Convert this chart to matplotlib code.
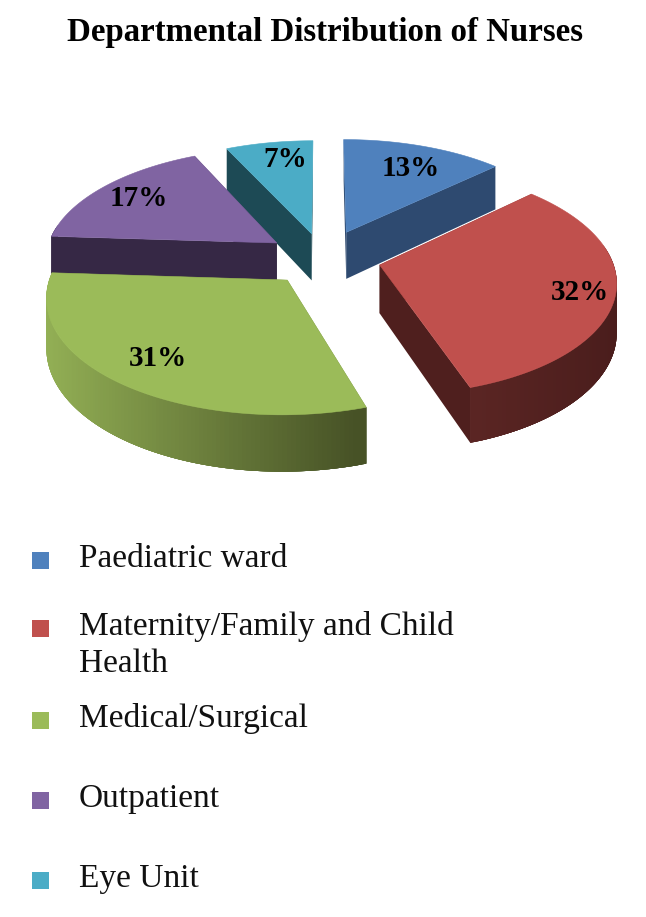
import numpy as np
import matplotlib
matplotlib.use("Agg")
import matplotlib.pyplot as plt
from matplotlib.patches import Polygon, Rectangle
from matplotlib.colors import to_rgb

title = "Departmental Distribution of Nurses"
categories = ["Paediatric ward", "Maternity/Family and Child\nHealth", "Medical/Surgical", "Outpatient", "Eye Unit"]
values = [13, 32, 31, 17, 7]
top_colors = ["#4f81bd", "#c0504d", "#9bbb59", "#8064a2", "#4bacc6"]
cut_colors = ["#2e4a70", "#4f1f1e", "#4a5528", "#362845", "#1d4a55"]
side_left = ["#2e4a70", "#5a2523", "#93b055", "#362845", "#1d4a55"]
side_right = ["#2e4a70", "#4a1d1c", "#475226", "#362845", "#1d4a55"]
explode = [0.26, 0.25, 0.245, 0.245, 0.23]
label_pos = [(411, 166), (580, 290), (158, 356), (139, 196), (285, 157)]
legend_y = [558, 626, 718, 798, 878]

CX, CY, RX, RY, DEPTH, PERSP = 323, 258, 232, 111, 48, 0.13
START = 90
SERIF = "Liberation Serif"
LEGEND_LINE_PX = 37

fig = plt.figure(figsize=(6.46, 9.17), dpi=100)
ax = fig.add_axes([0, 0, 1, 1])
ax.set_xlim(0, 646)
ax.set_ylim(917, 0)
ax.axis("off")


def project(X, Y, z=0.0):
    w = 1 + PERSP * Y
    return np.column_stack([CX + RX * X / w, CY - RY * Y / w + DEPTH * z / w])


def quad(a, b, color, zorder):
    pts = np.vstack([a, b[::-1]])
    ax.add_patch(Polygon(pts, closed=True, facecolor=color, edgecolor="none", zorder=zorder))


fractions = np.array(values) / sum(values)
edges = START - 360 * np.concatenate([[0], np.cumsum(fractions)])
draw_order = [4, 0, 3, 2, 1]

for layer, i in enumerate(draw_order):
    t0, t1 = edges[i], edges[i + 1]
    mid = np.radians((t0 + t1) / 2)
    ex, ey = explode[i] * np.cos(mid), explode[i] * np.sin(mid)
    t = np.radians(np.linspace(t0, t1, 120))
    arcX, arcY = ex + np.cos(t), ey + np.sin(t)
    z = layer * 10 + 1

    # radial cut faces
    for tt in (t[0], t[-1]):
        sX = np.array([ex, ex + np.cos(tt)])
        sY = np.array([ey, ey + np.sin(tt)])
        quad(project(sX, sY, 0), project(sX, sY, 1), cut_colors[i], z)

    # curved rim, shaded from left to right; neighbouring strips overlap to hide seams
    top_arc, bot_arc = project(arcX, arcY, 0), project(arcX, arcY, 1)
    lo, hi = top_arc[:, 0].min(), top_arc[:, 0].max()
    c0, c1 = np.array(to_rgb(side_left[i])), np.array(to_rgb(side_right[i]))
    order = np.argsort(top_arc[:-1, 0]) if i == 2 else np.arange(len(t) - 1)
    for k in order:
        if np.sin(t[k]) > 0.15 and i != 2:
            continue
        f = (top_arc[k, 0] - lo) / max(hi - lo, 1)
        a, b = max(k - 2, 0), min(k + 4, len(t))
        quad(top_arc[a:b], bot_arc[a:b], tuple(c0 + (c1 - c0) * f), z + 1)

    # top face
    apex = project(np.array([ex]), np.array([ey]), 0)
    ax.add_patch(Polygon(np.vstack([apex, top_arc]), closed=True, facecolor=top_colors[i],
                         edgecolor=top_colors[i], lw=0.4, zorder=z + 2))

for v, (x, y) in zip(values, label_pos):
    ax.text(x, y + 2.5, f"{v}%", ha="center", va="center", fontsize=21, fontweight="bold",
            family=SERIF, color="black", zorder=100)

ax.text(325, 33, title, ha="center", va="center", fontsize=23.7, fontweight="bold", family=SERIF, color="black")

for name, y, col in zip(categories, legend_y, top_colors):
    ax.add_patch(Rectangle((32, y - 6), 16.5, 16.5, facecolor=col, edgecolor="none"))
    for n, line in enumerate(name.split("\n")):
        ax.text(79, y + 9 + n * LEGEND_LINE_PX, line, ha="left", va="baseline", fontsize=24,
                family=SERIF, color="#111111")

fig.savefig("out.png", dpi=100)
